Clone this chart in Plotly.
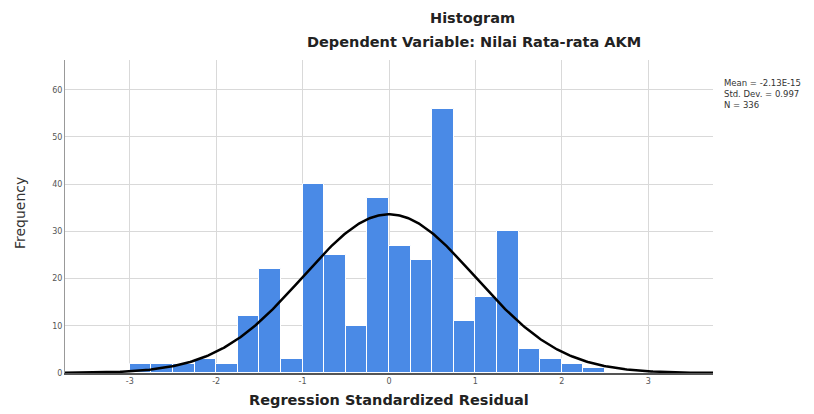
import numpy as np
import plotly.graph_objects as go

# Histogram data (bin width 0.25, left edges from -3.0)
bin_left_edges = [-3.0, -2.75, -2.5, -2.25, -2.0, -1.75, -1.5, -1.25, -1.0, -0.75, -0.5,
                  -0.25, 0.0, 0.25, 0.5, 0.75, 1.0, 1.25, 1.5, 1.75, 2.0, 2.25]
frequencies = [2, 2, 2, 3, 2, 12, 22, 3, 40, 25, 10, 37, 27, 24, 56, 11, 16, 30, 5, 3, 2, 1]
bin_width = 0.25

# Summary statistics
stat_mean = -2.13e-15
stat_sd = 0.997
stat_n = 336

x_tick_vals = [-3, -2, -1, 0, 1, 2, 3]
y_tick_vals = [0, 10, 20, 30, 40, 50, 60]

centers = [e + bin_width / 2 for e in bin_left_edges]

xs = np.linspace(-3.75, 3.75, 400)
curve = stat_n * bin_width * np.exp(-0.5 * ((xs - stat_mean) / stat_sd) ** 2) / (stat_sd * np.sqrt(2 * np.pi))

fig = go.Figure()
fig.add_trace(go.Bar(
    x=centers, y=frequencies, width=bin_width,
    marker=dict(color="#4a8ae6", line=dict(color="white", width=1)),
    showlegend=False, hoverinfo="skip"))
fig.add_trace(go.Scatter(
    x=xs, y=curve, mode="lines",
    line=dict(color="black", width=2.5),
    showlegend=False, hoverinfo="skip"))

grid = "#d9d9d9"
# page body has an 8px margin, so figure coords = page coords - 8
fig.update_layout(
    width=814, height=414,
    margin=dict(l=57, r=109, t=52, b=49),
    paper_bgcolor="white", plot_bgcolor="white",
    bargap=0,
    font=dict(family="DejaVu Sans", color="#333"),
    xaxis=dict(range=[-3.75, 3.75], tickvals=x_tick_vals, ticktext=[str(v) for v in x_tick_vals],
               showgrid=True, gridcolor=grid, gridwidth=1, zeroline=False,
               showline=True, linecolor="#555", linewidth=1.5,
               ticks="", tickfont=dict(size=8, color="#555")),
    yaxis=dict(range=[0, 66.3], tickvals=y_tick_vals, ticktext=[str(v) for v in y_tick_vals],
               showgrid=True, gridcolor=grid, gridwidth=1, zeroline=False,
               showline=True, linecolor="#999", linewidth=1,
               ticks="", tickfont=dict(size=8, color="#555")),
)

def py(ypix):
    return (373 - ypix) / 313.0

def px(xpix):
    return (xpix - 65) / 648.0

annotations = [
    dict(text="<b>Histogram</b>", x=px(472), y=py(18), font=dict(size=14.5, color="#222")),
    dict(text="<b>Dependent Variable: Nilai Rata-rata AKM</b>", x=px(474), y=py(42),
         font=dict(size=14.5, color="#222")),
    dict(text="<b>Regression Standardized Residual</b>", x=px(389), y=py(400),
         font=dict(size=14.5, color="#222")),
    dict(text="Frequency", x=px(20), y=py(213), textangle=-90, font=dict(size=14, color="#333")),
    dict(text="Mean = -2.13E-15<br>Std. Dev. = 0.997<br>N = 336", x=px(722), y=py(76),
         xanchor="left", yanchor="top", align="left", font=dict(size=8.5, color="#333")),
]
for a in annotations:
    a.setdefault("xanchor", "center")
    a.setdefault("yanchor", "middle")
    fig.add_annotation(xref="paper", yref="paper", showarrow=False, **a)

fig.write_html("out.html")
